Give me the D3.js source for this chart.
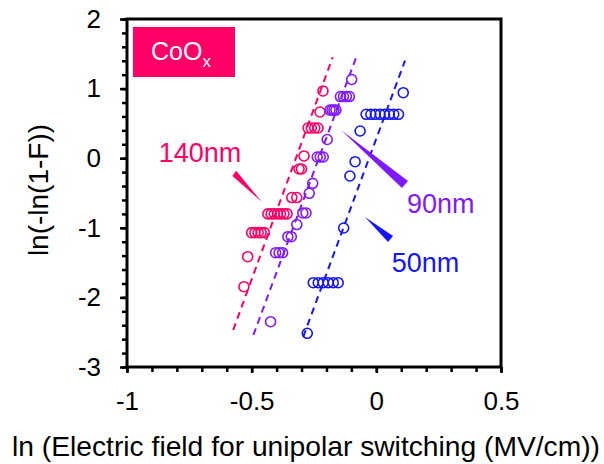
<!DOCTYPE html>
<html>
<head>
<meta charset="utf-8">
<script src="https://cdn.jsdelivr.net/npm/d3@7"></script>
<style>
  html, body { margin: 0; padding: 0; background: #fff; }
  svg { display: block; }
  text { font-family: "Liberation Sans", Arial, sans-serif; }
</style>
</head>
<body>
<svg id="chart" width="604" height="464"></svg>
<script>
// Weibull plots of unipolar switching field for three CoOx film thicknesses
const sample140X = [-0.214, -0.226, -0.274, -0.261, -0.247, -0.234, -0.290, -0.310, -0.300,
  -0.339, -0.319, -0.435, -0.422, -0.409, -0.396, -0.384, -0.371, -0.358,
  -0.500, -0.487, -0.474, -0.462, -0.449, -0.516, -0.531];
const sample140Y = [0.966, 0.664, 0.434, 0.434, 0.434, 0.434, 0.032, -0.155, -0.155,
  -0.565, -0.565, -0.80, -0.80, -0.80, -0.80, -0.80, -0.80, -0.80,
  -1.07, -1.07, -1.07, -1.07, -1.07, -1.415, -1.846];

const sample90X = [-0.099, -0.144, -0.132, -0.120, -0.108, -0.186, -0.178, -0.170, -0.162,
  -0.197, -0.237, -0.225, -0.213, -0.255, -0.269, -0.295, -0.282, -0.319,
  -0.355, -0.341, -0.404, -0.390, -0.376, -0.424];
const sample90Y = [1.131, 0.886, 0.886, 0.886, 0.886, 0.692, 0.692, 0.692, 0.692,
  0.269, 0.017, 0.017, 0.017, -0.361, -0.504, -0.787, -0.787, -0.953,
  -1.128, -1.128, -1.358, -1.358, -1.358, -2.349];

const sample50X = [0.108, -0.041, -0.022, -0.004, 0.015, 0.033, 0.052, 0.070, 0.089,
  -0.065, -0.085, -0.106, -0.131, -0.253, -0.233, -0.213, -0.193, -0.173, -0.153, -0.277];
const sample50Y = [0.941, 0.631, 0.631, 0.631, 0.631, 0.631, 0.631, 0.631, 0.631,
  0.391, -0.050, -0.256, -1.003, -1.789, -1.789, -1.789, -1.789, -1.789, -1.789, -2.516];

// Fitted lines, end points
const fit140X = [-0.574, -0.175], fit140Y = [-2.468, 1.450];
const fit90X = [-0.493, -0.076], fit90Y = [-2.540, 1.497];
const fit50X = [-0.293, 0.115], fit50Y = [-2.565, 1.401];

const seriesNames = ["140nm", "90nm", "50nm"];
const xTickLabels = [-1, -0.5, 0, 0.5];
const yTickLabels = [2, 1, 0, -1, -2, -3];

const colors = { "140nm": "#ff0066", "90nm": "#7f1aff", "50nm": "#1414ff" };

const svg = d3.select("#chart");
const plot = { left: 127, right: 501, top: 19, bottom: 367 };

const x = d3.scaleLinear().domain([-1, 0.5]).range([plot.left, plot.right]);
const y = d3.scaleLinear().domain([-3, 2]).range([plot.bottom, plot.top]);

// minor ticks
const xMinor = d3.range(-1, 0.5001, 0.1).map(v => +v.toFixed(2));
const yMinor = d3.range(-3, 2.0001, 0.2).map(v => +v.toFixed(2));

const gxMinor = svg.append("g").attr("transform", `translate(0,${plot.bottom})`)
  .call(d3.axisBottom(x).tickValues(xMinor).tickSize(5).tickFormat(""));
const gyMinor = svg.append("g").attr("transform", `translate(${plot.left},0)`)
  .call(d3.axisLeft(y).tickValues(yMinor).tickSize(5).tickFormat(""));

const gx = svg.append("g").attr("transform", `translate(0,${plot.bottom})`)
  .call(d3.axisBottom(x).tickValues(xTickLabels).tickSize(6).tickPadding(19)
    .tickFormat(d => String(d)));
const gy = svg.append("g").attr("transform", `translate(${plot.left},0)`)
  .call(d3.axisLeft(y).tickValues(yTickLabels).tickSize(7).tickPadding(19)
    .tickFormat(d => String(d)));

[gxMinor, gyMinor, gx, gy].forEach(g => {
  g.select(".domain").remove();
  g.selectAll(".tick line").attr("stroke", "#000").attr("stroke-width", 2.5);
  g.selectAll(".tick text").attr("fill", "#000").attr("font-size", 26)
    .attr("font-family", "'Liberation Sans', Arial, sans-serif");
});

// frame
svg.append("rect")
  .attr("x", plot.left).attr("y", plot.top)
  .attr("width", plot.right - plot.left).attr("height", plot.bottom - plot.top)
  .attr("fill", "none").attr("stroke", "#000").attr("stroke-width", 3);

// axis titles
svg.append("text")
  .attr("x", 12).attr("y", 456)
  .attr("font-size", 28)
  .attr("textLength", 588).attr("lengthAdjust", "spacingAndGlyphs")
  .text("ln (Electric field for unipolar switching (MV/cm))");

svg.append("text")
  .attr("transform", `translate(48,190) rotate(-90)`)
  .attr("text-anchor", "middle").attr("font-size", 28)
  .text("ln(-ln(1-F))");

// fitted dashed lines
const fits = [
  { name: "140nm", xs: fit140X, ys: fit140Y },
  { name: "90nm", xs: fit90X, ys: fit90Y },
  { name: "50nm", xs: fit50X, ys: fit50Y }
];
fits.forEach(f => {
  svg.append("line")
    .attr("x1", x(f.xs[0])).attr("y1", y(f.ys[0]))
    .attr("x2", x(f.xs[1])).attr("y2", y(f.ys[1]))
    .attr("stroke", colors[f.name]).attr("stroke-width", 2)
    .attr("stroke-dasharray", "7,5");
});

// data points
const samples = [
  { name: "140nm", xs: sample140X, ys: sample140Y },
  { name: "90nm", xs: sample90X, ys: sample90Y },
  { name: "50nm", xs: sample50X, ys: sample50Y }
];
samples.forEach(s => {
  svg.append("g").selectAll("circle")
    .data(s.xs.map((v, i) => [v, s.ys[i]]))
    .join("circle")
    .attr("cx", d => x(d[0])).attr("cy", d => y(d[1]))
    .attr("r", 5)
    .attr("fill", "none")
    .attr("stroke", colors[s.name]).attr("stroke-width", 1.6);
});

// thickness labels with wedge pointers (tip, base corners in data units)
const labels = [
  { name: "140nm", tx: -0.873, ty: -0.06,
    tip: [-0.460, -0.627], b1: [-0.577, -0.257], b2: [-0.562, -0.182] },
  { name: "90nm", tx: 0.123, ty: -0.79,
    tip: [-0.142, 0.405], b1: [0.127, -0.328], b2: [0.103, -0.428] },
  { name: "50nm", tx: 0.062, ty: -1.63,
    tip: [-0.046, -0.845], b1: [0.067, -1.118], b2: [0.047, -1.204] }
];
labels.forEach(l => {
  svg.append("path")
    .attr("d", d3.line()([[x(l.tip[0]), y(l.tip[1])], [x(l.b1[0]), y(l.b1[1])], [x(l.b2[0]), y(l.b2[1])]]) + "Z")
    .attr("fill", colors[l.name]);
  svg.append("text")
    .attr("x", x(l.tx)).attr("y", y(l.ty))
    .attr("font-size", 27)
    .attr("fill", colors[l.name])
    .text(l.name);
});

// material tag
const tag = svg.append("g").attr("transform", `translate(${plot.left + 6},${plot.top + 8})`);
tag.append("rect").attr("width", 102).attr("height", 50).attr("fill", "#ff0066");
const tagText = tag.append("text").attr("x", 18).attr("y", 33)
  .attr("font-size", 25).attr("fill", "#fff");
tagText.append("tspan").text("CoO");
tagText.append("tspan").attr("font-size", 17).attr("dy", 7).text("x");
</script>
</body>
</html>
